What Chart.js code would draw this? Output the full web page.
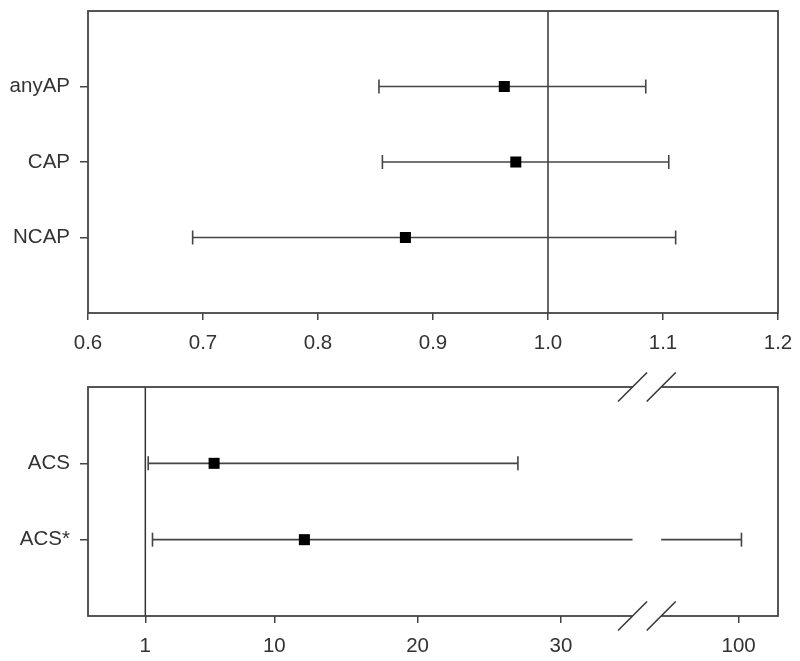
<!DOCTYPE html>
<html>
<head>
<meta charset="utf-8">
<script src="https://cdn.jsdelivr.net/npm/chart.js@4"></script>
<style>
body{margin:0;background:#fff;width:800px;height:661px;position:relative;overflow:hidden}
#top{position:absolute;left:0;top:0}
#bottom{position:absolute;left:0;top:340px}
</style>
</head>
<body>
<canvas id="top" width="800" height="360"></canvas>
<canvas id="bottom" width="800" height="321"></canvas>
<script>
// top panel
var topLabels=['anyAP','CAP','NCAP']
var topEst=[0.962,0.972,0.876]
var topLow=[0.853,0.856,0.691]
var topHigh=[1.085,1.105,1.111]
var topTicks=[0.6,0.7,0.8,0.9,1.0,1.1,1.2]
var topRef=1.0

// bottom panel (broken axis)
var botLabels=['ACS','ACS*']
var botEst=[5.8,12.1]
var botLow=[1.2,1.5]
var botHigh=[27,100.2]
var botTicks=[1,10,20,30,100]
var botRef=1

// axis break: values between breakFrom and breakTo are cut out
var breakFrom=35
var breakTo=94.6
var breakGap=2

function toAxis(v){
    if(v<=breakFrom) return v
    return breakFrom+breakGap+(v-breakTo)
}

var txt='#333'
var lineCol='#444'
var font={family:'Liberation Sans, Arial, sans-serif',size:20.5}

var panelPlugin={
    id:'panel',
    beforeDatasetsDraw:function(chart,args,opts){
        var a=chart.chartArea,ctx=chart.ctx
        var x=chart.scales.x.getPixelForValue(opts.ref)
        ctx.save()
        ctx.strokeStyle='#333'
        ctx.lineWidth=1.5
        ctx.beginPath()
        ctx.moveTo(x,a.top)
        ctx.lineTo(x,a.bottom)
        ctx.stroke()
        ctx.restore()
    },
    afterDraw:function(chart,args,opts){
        var a=chart.chartArea,ctx=chart.ctx
        ctx.save()
        ctx.strokeStyle=lineCol
        ctx.lineWidth=1.8
        ctx.strokeRect(a.left,a.top,a.right-a.left,a.bottom-a.top)
        if(opts.broken){
            var sx=chart.scales.x
            var b1=sx.getPixelForValue(breakFrom)
            var b2=sx.getPixelForValue(breakFrom+breakGap)
            ctx.fillStyle='#fff'
            ctx.fillRect(b1,a.top-3,b2-b1,a.bottom-a.top+6)
            ctx.strokeStyle='#333'
            ctx.lineWidth=1.5
            ;[a.top,a.bottom].forEach(function(y){
                [b1,b2].forEach(function(x){
                    ctx.beginPath()
                    ctx.moveTo(x-14.5,y+14.5)
                    ctx.lineTo(x+14.5,y-14.5)
                    ctx.stroke()
                })
            })
        }
        ctx.restore()
    }
}

function buildDatasets(labels,est,low,high,map){
    var ds=[{
        data:est.map(function(v,i){return {x:map(v),y:i+1}}),
        pointStyle:'rect',
        pointRadius:7.8,
        pointBorderWidth:0,
        backgroundColor:'#000',
        borderColor:'#000',
        showLine:false
    }]
    for(var i=0;i<labels.length;i++){
        ds.push({
            data:[{x:map(low[i]),y:i+1},{x:map(high[i]),y:i+1}],
            showLine:true,
            borderColor:lineCol,
            borderWidth:1.6,
            pointStyle:'line',
            rotation:90,
            pointRadius:7,
            pointBorderWidth:1.6,
            pointBorderColor:lineCol
        })
    }
    return ds
}

function makeChart(id,cfg){
    return new Chart(document.getElementById(id),{
        type:'scatter',
        data:{datasets:buildDatasets(cfg.labels,cfg.est,cfg.low,cfg.high,cfg.map)},
        plugins:[panelPlugin],
        options:{
            responsive:false,
            animation:false,
            layout:{padding:{left:0,top:cfg.padTop,right:22,bottom:0}},
            plugins:{legend:{display:false},tooltip:{enabled:false},panel:{ref:cfg.ref,broken:cfg.broken}},
            scales:{
                x:{
                    type:'linear',min:cfg.xmin,max:cfg.xmax,
                    afterBuildTicks:function(s){s.ticks=cfg.ticks.map(function(v){return {value:cfg.map(v)}})},
                    afterFit:function(s){s.height=cfg.xHeight;s.paddingLeft=0;s.paddingRight=0},
                    ticks:{font:font,color:txt,padding:11,maxRotation:0,autoSkip:false,
                        callback:function(v,i){return cfg.tickText(cfg.ticks[i])}},
                    grid:{drawOnChartArea:false,tickLength:7,tickColor:lineCol,lineWidth:1.5},
                    border:{display:false}
                },
                y:{
                    type:'linear',min:0,max:cfg.labels.length+1,reverse:true,
                    afterBuildTicks:function(s){s.ticks=cfg.labels.map(function(l,i){return {value:i+1}})},
                    afterFit:function(s){s.width=88;s.paddingTop=0;s.paddingBottom=0},
                    ticks:{font:font,color:txt,padding:10,autoSkip:false,
                        callback:function(v){return cfg.labels[v-1]}},
                    grid:{drawOnChartArea:false,tickLength:8,tickColor:lineCol,lineWidth:1.5},
                    border:{display:false}
                }
            }
        }
    })
}

makeChart('top',{
    labels:topLabels,est:topEst,low:topLow,high:topHigh,
    map:function(v){return v},
    ticks:topTicks,tickText:function(v){return v.toFixed(1)},
    xmin:0.6,xmax:1.2,padTop:11,xHeight:47,ref:topRef,broken:false
})

makeChart('bottom',{
    labels:botLabels,est:botEst,low:botLow,high:botHigh,
    map:toAxis,
    ticks:botTicks,tickText:function(v){return String(v)},
    xmin:-3,xmax:45.15,padTop:47,xHeight:45,ref:botRef,broken:true
})
</script>
</body>
</html>
